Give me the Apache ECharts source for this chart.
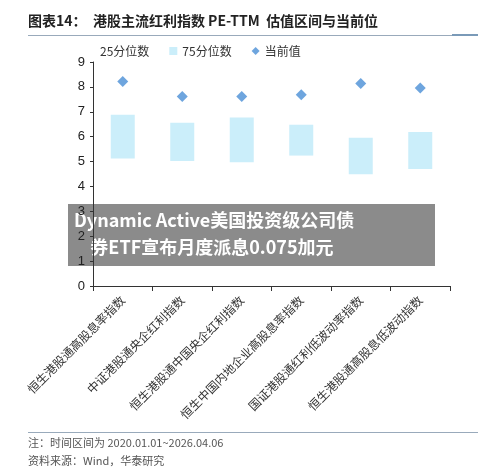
<!DOCTYPE html><html><head><meta charset="utf-8"><script src="https://cdn.jsdelivr.net/npm/echarts@6/dist/echarts.min.js"></script>
<style>body{margin:0;background:#fff}#c{width:500px;height:476px}</style></head><body><div id="c"></div><script>
const categories=['恒生港股通高股息率指数','中证港股通央企红利指数','恒生港股通中国央企红利指数','恒生中国内地企业高股息率指数','国证港股通红利低波动率指数','恒生港股通高股息低波动指数'];
const p25=[5.12,5.02,4.97,5.24,4.49,4.70];
const p75=[6.88,6.56,6.77,6.48,5.96,6.19];
const current=[8.22,7.61,7.61,7.68,8.14,7.96];
const yTicks=[0,1,2,3,4,5,6,7,8,9];
const f='"Noto Sans CJK SC",sans-serif';
const c=echarts.init(document.getElementById('c'));
c.setOption({
 animation:false,
 grid:{left:93,right:50,top:62,bottom:190},
 legend:{top:40,left:82,itemGap:20,itemWidth:8,itemHeight:8,textStyle:{fontFamily:f,fontSize:12,color:'#333'},
  data:[{name:'25分位数',icon:'rect',itemStyle:{color:'rgba(0,0,0,0)'}},{name:'75分位数',icon:'rect'},{name:'当前值',icon:'diamond'}]},
 xAxis:{type:'category',data:categories,axisLine:{lineStyle:{color:'#333'}},axisTick:{show:true,lineStyle:{color:'#333'}},
  axisLabel:{rotate:45,interval:0,fontFamily:f,fontSize:12,color:'#333',margin:12}},
 yAxis:{type:'value',min:0,max:9,interval:1,axisLine:{show:true,lineStyle:{color:'#333'}},axisTick:{show:true,length:3},splitLine:{show:false},
  axisLabel:{fontFamily:'Arial',fontSize:13,color:'#222',formatter:v=>yTicks.includes(v)?v:''}},
 series:[
  {name:'25分位数',type:'bar',stack:'a',data:p25,barWidth:24,itemStyle:{color:'rgba(0,0,0,0)'}},
  {name:'75分位数',type:'bar',stack:'a',data:p75.map((v,i)=>+(v-p25[i]).toFixed(2)),itemStyle:{color:'#cbeefa'}},
  {name:'当前值',type:'scatter',symbol:'diamond',symbolSize:11,data:current,itemStyle:{color:'#4a8fd6'}}
 ],
 graphic:[
  {type:'text',left:28,top:14,style:{text:'图表14：  港股主流红利指数 PE-TTM  估值区间与当前位',font:'bold 14px '+f,fill:'#222'}},
  {type:'rect',shape:{x:28,y:35,width:450,height:1},style:{fill:'#9ab'}},
  {type:'rect',shape:{x:452,y:34,width:26,height:2},style:{fill:'#7a9ab8'}},
  {type:'rect',shape:{x:68,y:204,width:367,height:62},style:{fill:'rgba(110,110,110,0.8)'}},
  {type:'text',left:74,top:207,style:{text:'Dynamic Active美国投资级公司债\n    券ETF宣布月度派息0.075加元',font:'bold 18px '+f,fill:'#fff',lineHeight:27}},
  {type:'rect',shape:{x:28,y:432,width:450,height:1},style:{fill:'#9ab'}},
  {type:'text',left:28,top:437,style:{text:'注：时间区间为 2020.01.01~2026.04.06',font:'11px '+f,fill:'#555'}},
  {type:'text',left:28,top:455,style:{text:'资料来源：Wind，华泰研究',font:'11px '+f,fill:'#555'}}
 ]
});
</script></body></html>
